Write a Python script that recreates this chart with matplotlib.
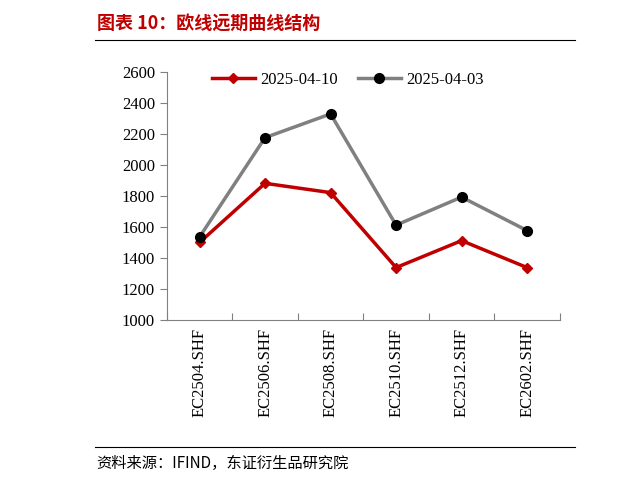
import matplotlib
matplotlib.use("Agg")
import matplotlib.pyplot as plt
from matplotlib.lines import Line2D

categories = ["EC2504.SHF", "EC2506.SHF", "EC2508.SHF", "EC2510.SHF", "EC2512.SHF", "EC2602.SHF"]
s_0410 = [1500, 1882, 1822, 1338, 1512, 1338]
s_0403 = [1535, 2177, 2330, 1612, 1793, 1577]
yticks = [1000, 1200, 1400, 1600, 1800, 2000, 2200, 2400, 2600]

fig = plt.figure(figsize=(6.2, 4.84), dpi=100)
ax = fig.add_axes([0.269, 0.339, 0.634, 0.512])
x = range(len(categories))
ax.plot(x, s_0410, color="#C00000", lw=2.5, marker="D", ms=5, label="2025-04-10")
ax.plot(x, s_0403, color="#808080", lw=2.5, marker="o", ms=7, mfc="black", mec="black", label="2025-04-03")
ax.set_ylim(1000, 2600)
ax.set_xlim(-0.5, len(categories) - 0.5)
ax.set_yticks(yticks)
ax.set_xticks([i - 0.5 for i in range(len(categories) + 1)], minor=False)
ax.set_xticklabels([])
ax.set_xticks(list(x), minor=True)
ax.set_xticklabels(categories, minor=True, rotation=90, fontsize=12, family="Liberation Serif")
ax.tick_params(axis="x", which="minor", length=0, pad=6)
ax.tick_params(axis="x", which="major", length=5, direction="in", color="#808080")
ax.tick_params(axis="y", length=5, direction="out", color="#808080", labelsize=12)
for t in ax.get_yticklabels():
    t.set_family("Liberation Serif")
for s in ["top", "right"]:
    ax.spines[s].set_visible(False)
for s in ["left", "bottom"]:
    ax.spines[s].set_color("#808080")
leg = ax.legend(loc="upper center", bbox_to_anchor=(0.46, 1.06), ncol=2, frameon=False,
                prop={"family": "Liberation Serif", "size": 12}, handlelength=2.6,
                handletextpad=0.3, columnspacing=1.2)

fig.text(0.156, 0.953, "图表 10：欧线远期曲线结构", color="#C00000", fontsize=13, fontweight="bold",
         family=["Noto Sans CJK SC", "DejaVu Sans"], va="center")
fig.add_artist(Line2D([0.153, 0.927], [0.918, 0.918], color="black", lw=0.8))
fig.add_artist(Line2D([0.153, 0.927], [0.076, 0.076], color="black", lw=0.8))
fig.text(0.156, 0.043, "资料来源：IFIND，东证衍生品研究院", fontsize=11,
         family=["Noto Sans CJK SC", "DejaVu Sans"], va="center")
fig.savefig("out.png", dpi=100)
